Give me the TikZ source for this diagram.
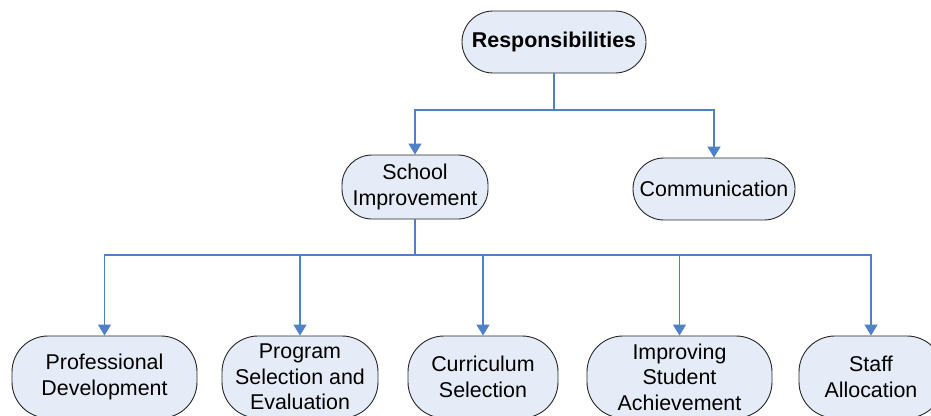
\documentclass[tikz,border=0pt]{standalone}
\usepackage{fontspec}
\setmainfont{Liberation Sans}
\usetikzlibrary{arrows.meta}
\definecolor{boxfill}{HTML}{E6ECF7}
\definecolor{linkblue}{HTML}{4F81C7}
\begin{document}
\begin{tikzpicture}[x=1pt,y=-1pt,
  pill/.style={draw=black!85, line width=0.9pt, fill=boxfill, rounded corners=#1,
    align=center, inner sep=0pt,
    font=\fontsize{21.4}{25.5}\selectfont},
  pill/.default=31pt,
  link/.style={draw=linkblue, line width=1.3pt},
  linkarrow/.style={link, -{Triangle[width=13pt,length=11pt]}}]
\useasboundingbox (0,0) rectangle (931,415);
\clip (0,0) rectangle (931,415);

% top level
\node[pill, minimum width=184pt, minimum height=62pt,
  font=\fontsize{21.4}{25.5}\selectfont\bfseries] (resp) at (554,42) {Responsibilities};

% second level
\node[pill=30pt, minimum width=146pt, minimum height=64pt] (school) at (415,187) {School\\Improvement};
\node[pill, minimum width=162pt, minimum height=62pt] (comm) at (714,189) {Communication};

% third level
\node[pill=36pt, minimum width=185pt, minimum height=82pt] (prof) at (104.5,377) {Professional\\Development};
\node[pill=36pt, minimum width=156pt, minimum height=82pt] (prog) at (300,377) {Program\\Selection and\\Evaluation};
\node[pill=36pt, minimum width=150pt, minimum height=82pt] (curr) at (483,377) {Curriculum\\Selection};
\node[pill=36pt, minimum width=185pt, minimum height=82pt] (impr) at (679.5,377) {Improving\\Student\\Achievement};
\node[pill=36pt, minimum width=144pt, minimum height=82pt] (staff) at (871,377) {Staff\\Allocation};

% junctions
\coordinate (j1) at (554,110);
\coordinate (j2) at (415,255);

% connectors
\draw[link] (resp.south) -- (j1);
\draw[linkarrow] (j1) -| (school.north);
\draw[linkarrow] (j1) -| (comm.north);

\draw[link] (school.south) -- (j2);
\draw[linkarrow] (j2) -| (prof.north);
\draw[linkarrow] (j2) -| (prog.north);
\draw[linkarrow] (j2) -| (curr.north);
\draw[linkarrow] (j2) -| (impr.north);
\draw[linkarrow] (j2) -| (staff.north);
\end{tikzpicture}
\end{document}
